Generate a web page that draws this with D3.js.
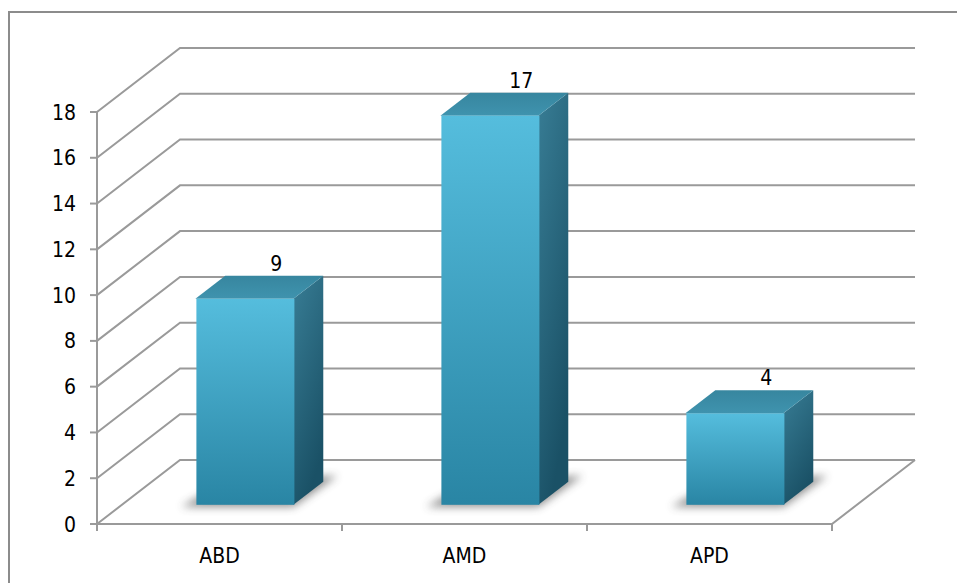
<!DOCTYPE html>
<html>
<head>
<meta charset="utf-8">
<script src="https://cdn.jsdelivr.net/npm/d3@7"></script>
<style>
  html, body { margin: 0; padding: 0; background: #fff; }
  svg { display: block; }
  text { font-family: "DejaVu Sans Condensed", "DejaVu Sans", sans-serif; fill: #000; }
</style>
</head>
<body>
<svg id="chart" width="957" height="583"></svg>
<script>
// Chart data
const categories = ["ABD", "AMD", "APD"];
const values = [9, 17, 4];
const yTicks = [0, 2, 4, 6, 8, 10, 12, 14, 16, 18];

const svg = d3.select("#chart");
const W = 957, H = 583;

// Front plane geometry and the depth vector of the 3D box
const x = d3.scaleBand().domain(categories).range([97, 832]);
const y = d3.scaleLinear().domain([0, 18]).range([524, 112]);
const depth = { dx: 83, dy: -64 };
const barFront = 0.3, barBack = 0.66;   // bar position within the depth
const barWidth = x.bandwidth() * 0.4;

const gridColor = "#9a9a9a";

// Outer chart border (right and bottom edges fall outside the view)
svg.append("rect")
  .attr("x", 9).attr("y", 12).attr("width", W + 20).attr("height", H + 20)
  .attr("fill", "none").attr("stroke", "#8c8c8c").attr("stroke-width", 2);

const defs = svg.append("defs");
const frontGrad = defs.append("linearGradient").attr("id", "front")
  .attr("x1", 0).attr("y1", 0).attr("x2", 0).attr("y2", 1);
frontGrad.append("stop").attr("offset", "0%").attr("stop-color", "#55bddd");
frontGrad.append("stop").attr("offset", "100%").attr("stop-color", "#2985a4");

const sideGrad = defs.append("linearGradient").attr("id", "side")
  .attr("x1", 0).attr("y1", 0).attr("x2", 0.4).attr("y2", 1);
sideGrad.append("stop").attr("offset", "0%").attr("stop-color", "#387d95");
sideGrad.append("stop").attr("offset", "100%").attr("stop-color", "#1a5166");

const topGrad = defs.append("linearGradient").attr("id", "topface")
  .attr("x1", 0).attr("y1", 1).attr("x2", 0).attr("y2", 0);
topGrad.append("stop").attr("offset", "0%").attr("stop-color", "#3f93ae");
topGrad.append("stop").attr("offset", "100%").attr("stop-color", "#37869f");

defs.append("filter").attr("id", "soft")
  .attr("x", "-30%").attr("y", "-100%").attr("width", "160%").attr("height", "300%")
  .append("feGaussianBlur").attr("stdDeviation", 4);

const grid = svg.append("g").attr("fill", "none")
  .attr("stroke", gridColor).attr("stroke-width", 2);

const x0 = x.range()[0], x1 = x.range()[1];
const backRight = x1 + depth.dx;

// Side wall diagonals and back wall gridlines for each tick value
yTicks.forEach(v => {
  const yf = y(v), yb = y(v) + depth.dy;
  grid.append("path")
    .attr("d", `M${x0},${yf}L${x0 + depth.dx},${yb}L${backRight},${yb}`);
});

// Floor: front edge and right edge
grid.append("path")
  .attr("d", `M${x0},${y(0)}L${x1},${y(0)}L${backRight},${y(0) + depth.dy}`);

// Value axis line with ticks
grid.append("line").attr("x1", x0).attr("x2", x0)
  .attr("y1", y(18)).attr("y2", y(0) + 7);
yTicks.forEach(v => {
  grid.append("line").attr("x1", x0 - 7).attr("x2", x0)
    .attr("y1", y(v)).attr("y2", y(v));
});

// Category ticks at band boundaries
const boundaries = categories.map(c => x(c)).concat([x1]);
boundaries.forEach(bx => {
  grid.append("line").attr("x1", bx).attr("x2", bx)
    .attr("y1", y(0)).attr("y2", y(0) + 7);
});

// Value axis labels
svg.append("g").selectAll("text").data(yTicks).join("text")
  .attr("x", 76).attr("y", d => y(d))
  .attr("dy", "0.36em")
  .attr("text-anchor", "end")
  .attr("font-size", 21)
  .text(d => d);

// Category labels
svg.append("g").selectAll("text").data(categories).join("text")
  .attr("x", d => x(d) + x.bandwidth() / 2)
  .attr("y", 563)
  .attr("text-anchor", "middle")
  .attr("font-size", 21)
  .text(d => d);

// Bars as boxes
const bars = svg.append("g");
categories.forEach((c, i) => {
  const v = values[i];
  const fx = x(c) + (x.bandwidth() - barWidth) / 2 + depth.dx * barFront;
  const fyBase = y(0) + depth.dy * barFront;
  const fyTop = fyBase - (y(0) - y(v));
  const bdx = depth.dx * (barBack - barFront);
  const bdy = depth.dy * (barBack - barFront);

  // soft shadow on the floor
  bars.append("path")
    .attr("d", `M${fx - 14},${fyBase + 2}L${fx + barWidth},${fyBase + 2}L${fx + barWidth + bdx + 14},${fyBase + bdy - 6}L${fx + bdx},${fyBase + bdy}Z`)
    .attr("fill", "#444").attr("opacity", 0.6)
    .attr("filter", "url(#soft)");

  // side face
  bars.append("path")
    .attr("d", `M${fx + barWidth},${fyTop}L${fx + barWidth + bdx},${fyTop + bdy}L${fx + barWidth + bdx},${fyBase + bdy}L${fx + barWidth},${fyBase}Z`)
    .attr("fill", "url(#side)");

  // top face
  bars.append("path")
    .attr("d", `M${fx},${fyTop}L${fx + bdx},${fyTop + bdy}L${fx + barWidth + bdx},${fyTop + bdy}L${fx + barWidth},${fyTop}Z`)
    .attr("fill", "url(#topface)");

  // front face
  bars.append("rect")
    .attr("x", fx + 1).attr("y", fyTop)
    .attr("width", barWidth).attr("height", fyBase - fyTop)
    .attr("fill", "url(#front)");

  // value label above the back edge of the top face
  bars.append("text")
    .attr("x", fx + bdx + barWidth / 2 + 2)
    .attr("y", fyTop + bdy - 5)
    .attr("text-anchor", "middle")
    .attr("font-size", 21)
    .text(v);
});
</script>
</body>
</html>
